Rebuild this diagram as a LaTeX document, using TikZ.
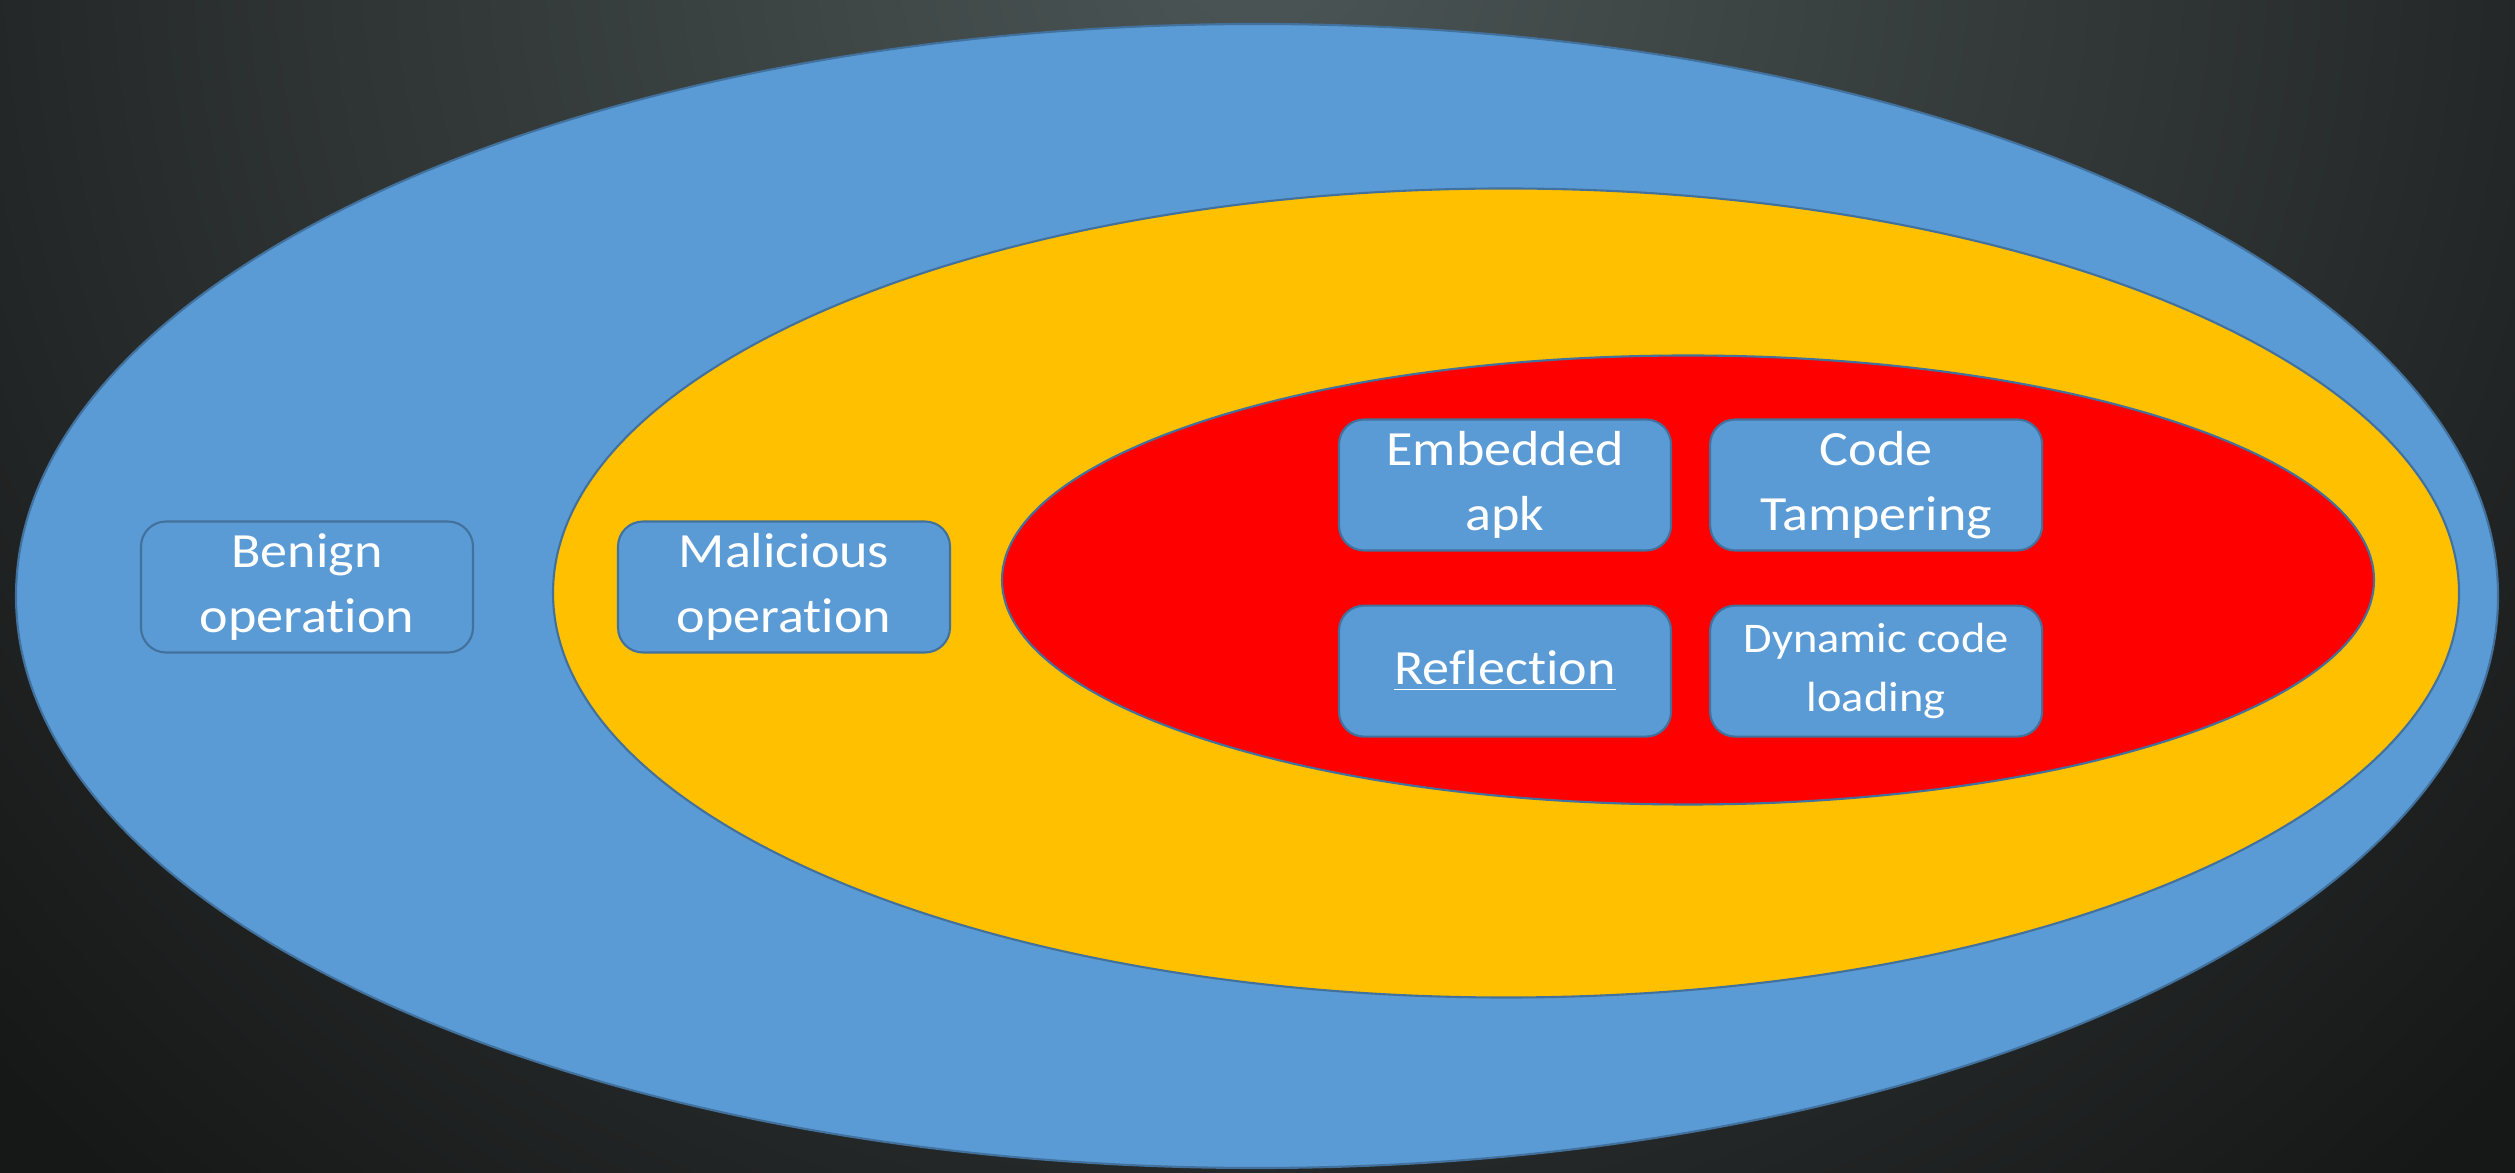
\documentclass[tikz,border=0pt]{standalone}
\usepackage{fontspec}
\setmainfont{Carlito}
\newfontfamily\boxfont[FakeStretch=1.1, Ligatures=NoCommon]{Carlito}
\usetikzlibrary{positioning}

\definecolor{bgdark}{HTML}{161717}
\definecolor{bgtop}{HTML}{4C5656}
\definecolor{outerblue}{HTML}{5B9BD5}
\definecolor{midyellow}{HTML}{FFC000}
\definecolor{innerred}{HTML}{FF0000}
\definecolor{edgeblue}{HTML}{41719C}

\tikzset{
  zone/.style={draw=edgeblue, line width=0.6pt},
  opbox/.style={draw=edgeblue, line width=0.6pt, fill=outerblue, rounded corners=0.25cm,
    minimum width=3.32cm, minimum height=1.31cm, inner sep=0pt, align=center,
    text=white, font=\boxfont\fontsize{14}{18.5}\selectfont},
  smallbox/.style={opbox, font=\boxfont\fontsize{12}{16.8}\selectfont}
}

\begin{document}
\begin{tikzpicture}

    % 1. Background with a soft glow at the top
    \useasboundingbox (0,0) rectangle (25.15,11.72);
    \begin{scope}
      \clip (-0.2,-0.2) rectangle (25.35,11.92);
      \fill[bgdark] (-0.2,-0.2) rectangle (25.35,11.92);
      \shade[inner color=bgtop, outer color=bgdark] (12.57,12.4) circle (17cm);
    \end{scope}

    % 2. Nested zones
    \draw[zone, fill=outerblue] (12.57,5.76) ellipse (12.41cm and 5.72cm);
    \draw[zone, fill=midyellow] (15.06,5.79) ellipse (9.53cm and 4.045cm);
    \draw[zone, fill=innerred] (16.88,5.92) ellipse (6.86cm and 2.245cm);

    % 3. Operation boxes
    \node[opbox] (benign) at (3.07,5.85) {Benign\\operation};
    \node[opbox] (malicious) at (7.84,5.85) {Malicious\\operation};

    % 4. Techniques inside the red zone
    \node[opbox] (embedded) at (15.05,6.87) {Embedded\\apk};
    \node[opbox, right=0.37cm of embedded] (tampering) {Code\\Tampering};
    \node[opbox, below=0.53cm of embedded] (reflection) {\underline{Reflection}};
    \node[smallbox, below=0.53cm of tampering] (dynamic) {Dynamic code\\loading};

\end{tikzpicture}
\end{document}
